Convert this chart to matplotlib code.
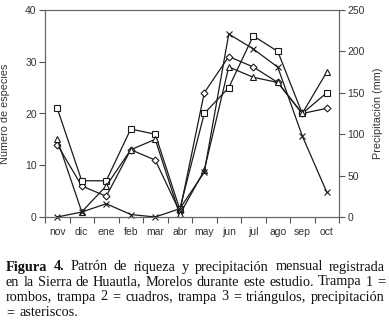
import numpy as np
import matplotlib.pyplot as plt

# monthly data
months = ["nov", "dic", "ene", "feb", "mar", "abr", "may", "jun", "jul", "ago", "sep", "oct"]
trampa1 = [14, 6, 4, 13, 11, 1, 24, 31, 29, 26, 20, 21]      # rombos
trampa2 = [21, 7, 7, 17, 16, 1.5, 20, 25, 35, 32, 20, 24]    # cuadros
trampa3 = [15, 1, 6, 13, 15, 0.5, 9, 29, 27, 26, 20, 28]     # triangulos
precip = [0, 6, 16, 3, 0, 10, 54, 221, 203, 181, 98, 30]     # asteriscos (mm)

caption_lines = [
    [("Figura 4.", "bold"), ("Patrón de riqueza y precipitación mensual registrada", "normal")],
    [("en la Sierra de Huautla, Morelos durante este estudio. Trampa 1 =", "normal")],
    [("rombos, trampa 2 = cuadros, trampa 3 = triángulos, precipitación", "normal")],
    [("= asteriscos.", "normal")],
]

W, H = 389, 325
fig = plt.figure(figsize=(W / 100, H / 100), dpi=100)
ax = fig.add_axes([45 / W, 1 - 217 / H, (339 - 45) / W, (217 - 10) / H])
ax2 = ax.twinx()

x = np.arange(len(months))
lc = "#1a1a1a"
kw = dict(color=lc, lw=0.9, markerfacecolor="white", markeredgecolor=lc,
          markeredgewidth=0.8, clip_on=False)
ax.plot(x, trampa1, marker="D", markersize=3.5, **kw)
ax.plot(x, trampa2, marker="s", markersize=4, **kw)
ax.plot(x, trampa3, marker="^", markersize=4.5, **kw)
ax2.plot(x, precip, marker="x", markersize=5, **kw)

ax.set_xlim(-0.5, 11.5)
ax.set_ylim(0, 40)
ax2.set_ylim(0, 250)
ax.set_yticks([0, 10, 20, 30, 40])
ax2.set_yticks([0, 50, 100, 150, 200, 250])

# month names centred, ticks between months
ax.set_xticks(x)
ax.set_xticklabels(months)
ax.set_xticks(np.arange(-0.5, 12, 1), minor=True)
ax.tick_params(axis="x", which="major", length=0, pad=7)
ax.tick_params(axis="x", which="minor", length=4, width=0.8, color="#555555")

font = "Liberation Sans"
tc = "#333333"
for a in (ax, ax2):
    for s in a.spines.values():
        s.set_color("#666666")
        s.set_linewidth(0.8)
    a.tick_params(axis="y", length=4, width=0.8, color="#555555", labelsize=7.5,
                  labelcolor=tc, pad=2)
    for lab in a.get_yticklabels() + a.get_xticklabels():
        lab.set_family(font)
ax.tick_params(axis="x", labelsize=7.5, labelcolor=tc)
for lab in ax.get_xticklabels():
    lab.set_family(font)

ax.set_ylabel("Número de especies", family=font, fontsize=7.8, color=tc, labelpad=11)
ax2.set_ylabel("Precipitación (mm)", family=font, fontsize=7.8, color=tc, labelpad=6,
               rotation=90)

# justified caption
renderer = fig.canvas.get_renderer()
cap_font = "Liberation Serif"
cap_size = 10.3
left_px, right_px = 6, 385
baselines = [270.5, 285.5, 300.5, 316]
space_px = 5.5


def text_width(s, weight):
    t = fig.text(0, 0, s, family=cap_font, fontsize=cap_size, weight=weight)
    w = t.get_window_extent(renderer).width
    t.remove()
    return w


for i, parts in enumerate(caption_lines):
    words = []
    for txt, weight in parts:
        words += [(w, weight) for w in txt.split()]
    widths = [text_width(w, wt) for w, wt in words]
    last = i == len(caption_lines) - 1
    if last or len(words) == 1:
        gap = space_px
    else:
        gap = (right_px - left_px - sum(widths)) / (len(words) - 1)
    xp = left_px
    for (w, wt), wd in zip(words, widths):
        fig.text(xp / W, 1 - baselines[i] / H, w, family=cap_font, fontsize=cap_size,
                 weight=wt, va="baseline", ha="left", color="#111111")
        xp += wd + gap

fig.savefig("out.png", dpi=100)
